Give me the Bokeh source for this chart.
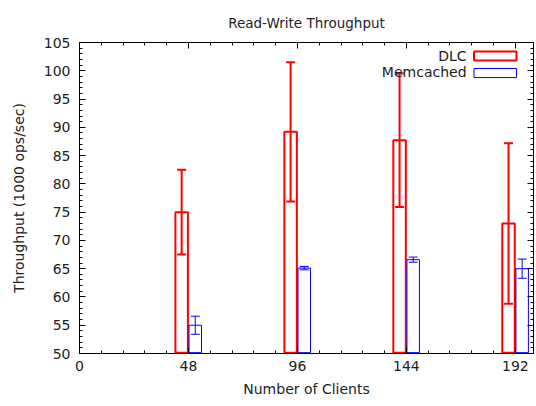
from bokeh.plotting import figure
from bokeh.models import (ColumnDataSource, Whisker, TeeHead, LinearAxis, FixedTicker,
                          Range1d, Label, BoxAnnotation, CustomJSTickFormatter)
from bokeh.transform import dodge
from bokeh.embed import file_html
from bokeh.resources import INLINE

clients = [48, 96, 144, 192]
dlc = [75.0, 89.2, 87.7, 73.0]
dlc_err = [7.5, 12.3, 11.8, 14.2]
memc = [55.0, 65.1, 66.6, 65.0]
memc_err = [1.6, 0.3, 0.45, 1.7]
x_ticks = [0, 48, 96, 144, 192]
y_ticks = list(range(50, 106, 5))

FONT = "DejaVu Sans"
FS = "14px"
RED = "#ff0000"
BLUE = "#0000ff"

src = ColumnDataSource(dict(
    x=clients, dlc=dlc, memc=memc,
    dlc_lo=[v - e for v, e in zip(dlc, dlc_err)],
    dlc_hi=[v + e for v, e in zip(dlc, dlc_err)],
    memc_lo=[v - e for v, e in zip(memc, memc_err)],
    memc_hi=[v + e for v, e in zip(memc, memc_err)],
))

p = figure(width=536, height=406, output_backend="svg", toolbar_location=None,
           x_range=Range1d(0, 200), y_range=Range1d(50, 105),
           min_border_left=79, min_border_right=3, min_border_top=42, min_border_bottom=53)
p.title.text = "Read-Write Throughput"
p.title.align = "center"
p.title.text_font = FONT
p.title.text_font_size = "13.5px"
p.title.text_font_style = "normal"
p.title.text_color = "#222222"
p.title.standoff = 24
p.grid.visible = False
p.outline_line_color = "black"
p.background_fill_color = "white"
p.border_fill_color = "white"

base = 50.15
p.vbar(x=dodge("x", -3), top="dlc", bottom=base, width=5.5, source=src,
       fill_color=None, line_color=RED, line_width=2)
p.vbar(x=dodge("x", 3), top="memc", bottom=base, width=5.5, source=src,
       fill_color=None, line_color=BLUE, line_width=1)

w1 = Whisker(source=src, base=dodge("x", -3), upper="dlc_hi", lower="dlc_lo",
             dimension="height", line_color=RED, line_width=2,
             upper_head=TeeHead(size=9, line_color=RED, line_width=2),
             lower_head=TeeHead(size=9, line_color=RED, line_width=2))
w2 = Whisker(source=src, base=dodge("x", 3), upper="memc_hi", lower="memc_lo",
             dimension="height", line_color=BLUE, line_width=1,
             upper_head=TeeHead(size=9, line_color=BLUE, line_width=1),
             lower_head=TeeHead(size=9, line_color=BLUE, line_width=1))
p.add_layout(w1)
p.add_layout(w2)

def style(ax, labels=True):
    ax.axis_line_color = "black"
    ax.major_tick_line_color = "black"
    ax.minor_tick_line_color = "black"
    ax.major_tick_in = 6
    ax.major_tick_out = 0
    ax.minor_tick_in = 3
    ax.minor_tick_out = 0
    ax.major_label_text_font = FONT
    ax.major_label_text_font_size = FS
    ax.major_label_text_color = "#222222"
    ax.axis_label_text_font = FONT
    ax.axis_label_text_font_size = FS
    ax.axis_label_text_font_style = "normal"
    ax.axis_label_text_color = "#222222"
    if not labels:
        ax.formatter = CustomJSTickFormatter(code="return ''")
        ax.major_label_text_font_size = "0px"
        ax.major_label_standoff = 0

xt = FixedTicker(ticks=x_ticks, minor_ticks=[i * 9.6 for i in range(0, 22)])
yt = FixedTicker(ticks=y_ticks, minor_ticks=list(range(50, 106)))

p.xaxis.ticker = xt
p.yaxis.ticker = yt
style(p.xaxis[0])
style(p.yaxis[0])
p.xaxis.axis_label = "Number of Clients"
p.yaxis.axis_label = "Throughput (1000 ops/sec)"
p.xaxis.major_label_standoff = 7
p.xaxis.axis_label_standoff = 7
p.yaxis.major_label_standoff = 9
p.yaxis.axis_label_standoff = 14

ra = LinearAxis(ticker=yt)
style(ra, labels=False)
p.add_layout(ra, "right")
ta = LinearAxis(ticker=xt)
style(ta, labels=False)
p.add_layout(ta, "above")

# legend (gnuplot style: label then sample box)
p.add_layout(Label(x=170.5, y=102.7, text="DLC", text_align="right", text_baseline="middle",
                   text_font=FONT, text_font_size=FS, text_color="#222222"))
p.add_layout(Label(x=170.5, y=99.7, text="Memcached", text_align="right", text_baseline="middle",
                   text_font=FONT, text_font_size=FS, text_color="#222222"))
p.add_layout(BoxAnnotation(left=173.8, right=192.5, bottom=101.8, top=103.4,
                           fill_color=None, fill_alpha=0, line_color=RED, line_alpha=1,
                           line_width=2))
p.add_layout(BoxAnnotation(left=173.8, right=192.5, bottom=98.8, top=100.4,
                           fill_color=None, fill_alpha=0, line_color=BLUE, line_alpha=1,
                           line_width=1))

open("out.html", "w").write(file_html(p, INLINE))
